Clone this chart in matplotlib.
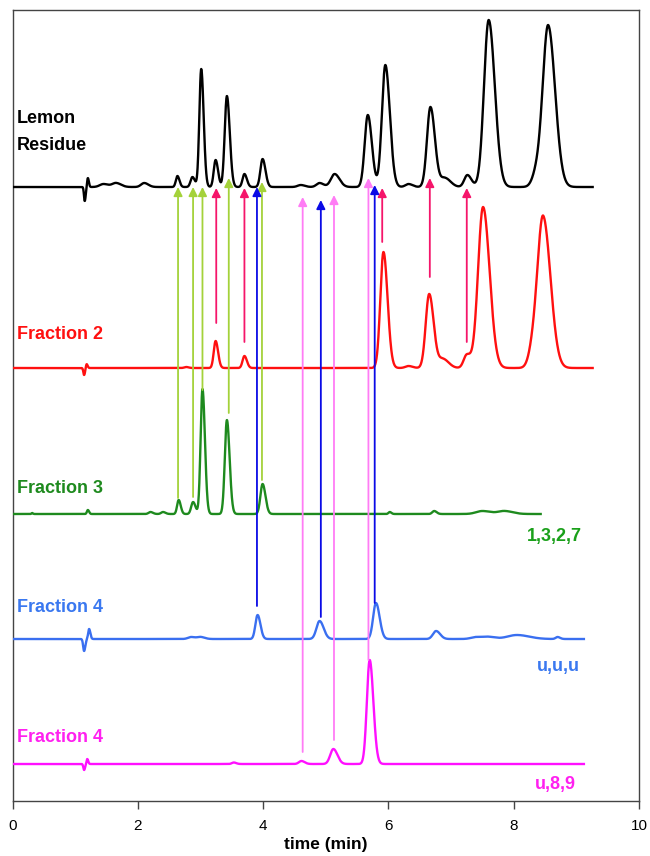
import numpy as np
import matplotlib
matplotlib.use("Agg")
import matplotlib.pyplot as plt

plt.rcParams['font.family'] = ['Liberation Sans', 'DejaVu Sans']

# ---------------- data (peaks) ----------------
# each trace: retention times (min), peak heights (signal units), peak widths (min)
lemon_t = [1.15, 1.20, 1.45, 1.65, 2.10, 2.63, 2.87, 3.01, 3.24, 3.42, 3.70, 3.99,
           4.60, 4.90, 5.14, 5.67, 5.95, 6.32, 6.67, 6.90, 7.26, 7.60, 8.37, 8.55]
lemon_h = [-14, 9, 3, 4, 4, 11, 10, 118, 27, 91, 13, 28,
           2, 4, 13, 72, 122, 3, 80, 9, 12, 167, 14, 160]
lemon_w = [0.012, 0.012, 0.06, 0.06, 0.05, 0.025, 0.03, 0.03, 0.03, 0.035, 0.03, 0.035,
           0.05, 0.05, 0.06, 0.05, 0.055, 0.05, 0.055, 0.07, 0.05, 0.075, 0.07, 0.085]
lemon_end = 9.26

frac2_t = [1.14, 1.18, 2.77, 3.24, 3.70, 5.92, 6.32, 6.65, 6.87, 7.25, 7.51, 8.31, 8.47]
frac2_h = [-7, 4, 1, 27, 12, 116, 2, 74, 9, 13, 161, 16, 149]
frac2_w = [0.012, 0.012, 0.03, 0.03, 0.03, 0.05, 0.05, 0.055, 0.07, 0.05, 0.08, 0.07, 0.09]
frac2_end = 9.26

frac3_t = [0.31, 1.20, 2.20, 2.40, 2.65, 2.88, 3.03, 3.42, 3.99, 6.02, 6.73, 7.50, 7.85]
frac3_h = [1, 4, 2, 2, 14, 12, 125, 94, 30, 2, 3, 3, 3]
frac3_w = [0.01, 0.015, 0.03, 0.03, 0.025, 0.03, 0.03, 0.033, 0.035, 0.02, 0.03, 0.1, 0.1]
frac3_end = 8.43

frac4a_t = [1.14, 1.22, 2.85, 3.00, 3.91, 4.90, 5.80, 6.76, 7.40, 7.60, 8.05, 8.70]
frac4a_h = [-12, 10, 2, 2, 24, 18, 36, 8, 2, 2, 4, 2]
frac4a_w = [0.015, 0.015, 0.05, 0.05, 0.035, 0.05, 0.045, 0.05, 0.08, 0.08, 0.15, 0.03]
frac4a_end = 9.12

frac4b_t = [1.14, 1.19, 3.53, 4.61, 5.12, 5.70]
frac4b_h = [-6, 5, 1.5, 3, 15, 104]
frac4b_w = [0.012, 0.012, 0.03, 0.04, 0.05, 0.045]
frac4b_end = 9.12

# vertical offsets of each trace
offsets = [614, 433, 287, 162, 37]

trace_names = ["Lemon\nResidue", "Fraction 2", "Fraction 3", "Fraction 4", "Fraction 4"]
right_labels = ["", "", "1,3,2,7", "u,u,u", "u,8,9"]

# arrows: x position (min), start level, tip level
arrow_green_x = [2.64, 2.88, 3.03, 3.45, 3.98]
arrow_green_from = [303, 304, 411, 388, 321]
arrow_green_to = [614, 614, 614, 623, 619]

arrow_red_x = [3.25, 3.70, 5.90, 6.66, 7.25]
arrow_red_from = [478, 459, 559, 524, 459]
arrow_red_to = [613, 613, 613, 623, 613]

arrow_blue_x = [3.90, 4.92, 5.78]
arrow_blue_from = [195, 184, 198]
arrow_blue_to = [614, 601, 616]

arrow_pink_x = [4.63, 5.13, 5.68]
arrow_pink_from = [49, 61, 141]
arrow_pink_to = [604, 606, 623]

xticks = [0, 2, 4, 6, 8, 10]

# ---------------- styling ----------------
TAIL = 1.3
trace_colors = ["black", "#ff1010", "#1e8a1e", "#3a6ff0", "#ff10ff"]
label_colors = ["black", "#ff1010", "#1e8a1e", "#3a78f0", "#ff20f0"]
right_label_colors = ["black", "#ff1010", "#1aa01a", "#3a78f0", "#ff20f0"]
arrow_colors = {"green": "#a4d23a", "red": "#f5156a", "blue": "#0a0ae6", "pink": "#ff7cf5"}


def trace(ts, hs, ws, end):
    t = np.linspace(0, end, 3000)
    y = np.zeros_like(t)
    for t0, h, w in zip(ts, hs, ws):
        s = np.where(t < t0, w, w * TAIL)
        y += h * np.exp(-0.5 * ((t - t0) / s) ** 2)
    return t, y


fig = plt.figure(figsize=(6.5, 8.56), dpi=100)
ax = fig.add_axes([12.7 / 650, 1 - 801 / 856, (639 - 12.7) / 650, (801 - 10) / 856])

traces = [(lemon_t, lemon_h, lemon_w, lemon_end),
          (frac2_t, frac2_h, frac2_w, frac2_end),
          (frac3_t, frac3_h, frac3_w, frac3_end),
          (frac4a_t, frac4a_h, frac4a_w, frac4a_end),
          (frac4b_t, frac4b_h, frac4b_w, frac4b_end)]

for i, (ts, hs, ws, end) in enumerate(traces):
    t, y = trace(ts, hs, ws, end)
    ax.plot(t, y + offsets[i], color=trace_colors[i], lw=1.7, zorder=3)

label_y = [669, 466, 312, 193, 63]
for i, name in enumerate(trace_names):
    ax.text(0.07, label_y[i], name, color=label_colors[i], fontsize=13,
            fontweight='bold', ha='left', va='center', linespacing=1.75)

right_x = [0, 0, 9.08, 9.05, 9.0]
right_y = [0, 0, 264, 135, 17]
for i, lab in enumerate(right_labels):
    if lab:
        ax.text(right_x[i], right_y[i], lab, color=right_label_colors[i], fontsize=13,
                fontweight='bold', ha='right', va='center')


def draw_arrows(xs, froms, tos, color):
    for x, a, b in zip(xs, froms, tos):
        ax.annotate("", xy=(x, b), xytext=(x, a),
                    arrowprops=dict(arrowstyle='-|>', color=color, lw=1.3,
                                    mutation_scale=13, shrinkA=0, shrinkB=0),
                    zorder=4)


draw_arrows(arrow_green_x, arrow_green_from, arrow_green_to, arrow_colors["green"])
draw_arrows(arrow_red_x, arrow_red_from, arrow_red_to, arrow_colors["red"])
draw_arrows(arrow_blue_x, arrow_blue_from, arrow_blue_to, arrow_colors["blue"])
draw_arrows(arrow_pink_x, arrow_pink_from, arrow_pink_to, arrow_colors["pink"])

ax.set_xlim(0, 10)
ax.set_ylim(0, 791)
ax.set_xticks(xticks)
ax.set_xticklabels([str(v) for v in xticks], fontsize=11)
ax.set_yticks([])
ax.tick_params(axis='x', direction='out', length=6, width=1, color='#444444', pad=7)
for sp in ax.spines.values():
    sp.set_color('#444444')
    sp.set_linewidth(1.0)
ax.set_xlabel("time (min)", fontsize=12.5, fontweight='bold', labelpad=3)

fig.savefig("out.png", dpi=100)
